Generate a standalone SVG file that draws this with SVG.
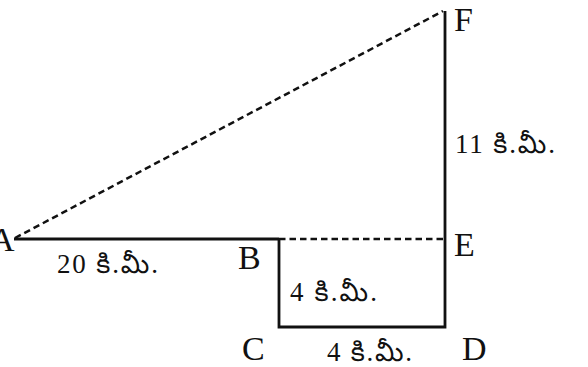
<svg xmlns="http://www.w3.org/2000/svg" width="588" height="367" viewBox="0 0 588 367">
<style>
.s{stroke:#111;stroke-width:2.8;fill:none}
.d{stroke:#111;stroke-width:2.5;fill:none;stroke-dasharray:6.5 4}
.L{font-family:"Liberation Serif","Times New Roman",serif;font-size:34px;fill:#111}
.m{font-family:"Liberation Serif","Noto Sans Telugu","Noto Serif Telugu",serif;font-size:27px;fill:#111}
</style>
<rect width="588" height="367" fill="#fff"/>
<g id="connectors">
<line class="s" x1="14" y1="239" x2="279" y2="239"/>
<polyline class="s" points="279,239 279,327 445,327 445,11"/>
<line class="d" x1="279" y1="239" x2="445" y2="239"/>
<line class="d" x1="15" y1="238" x2="443" y2="11"/>
</g>
<g id="A"><text class="L" x="-10" y="251">A</text></g>
<g id="B"><text class="L" x="238" y="269">B</text></g>
<g id="C"><text class="L" x="242" y="360">C</text></g>
<g id="D"><text class="L" x="462" y="360">D</text></g>
<g id="E"><text class="L" x="454" y="256">E</text></g>
<g id="F"><text class="L" x="454" y="31">F</text></g>
<g id="labels">
<text class="m" x="57" y="273" textLength="101" lengthAdjust="spacing">20 కి.మీ.</text>
<text class="m" x="290" y="301" textLength="87" lengthAdjust="spacing">4 కి.మీ.</text>
<text class="m" x="327" y="361" textLength="85" lengthAdjust="spacing">4 కి.మీ.</text>
<text class="m" x="455" y="153" textLength="100" lengthAdjust="spacing">11 కి.మీ.</text>
</g>
</svg>
